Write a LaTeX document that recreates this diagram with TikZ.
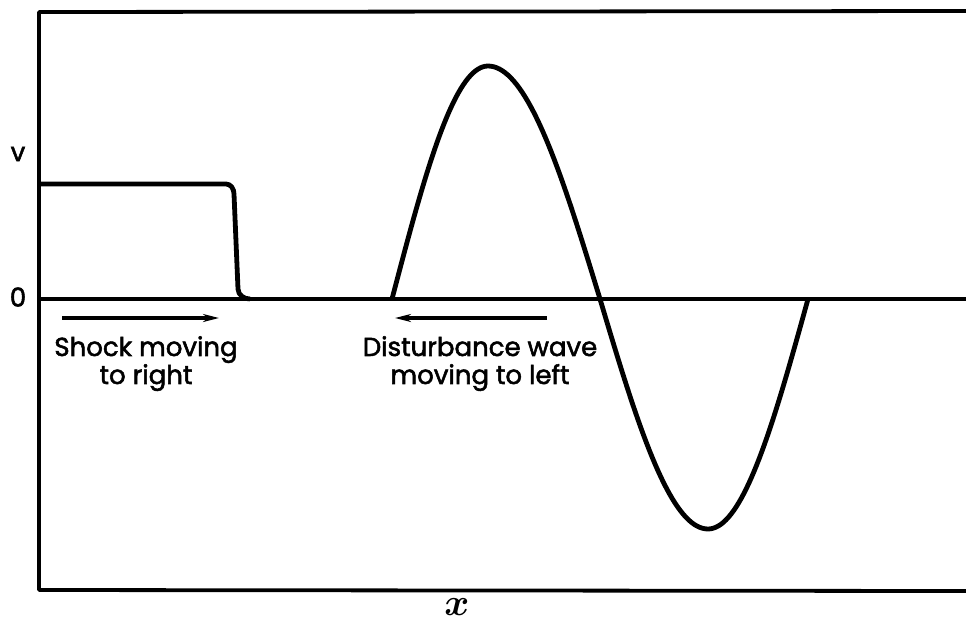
\documentclass[tikz,border=0pt]{standalone}
\usepackage{fontspec}
\setmainfont{Poppins}[BoldFont=Poppins,BoldFeatures={FakeBold=2}]
\usetikzlibrary{arrows.meta}
\begin{document}
\begin{tikzpicture}[x=1pt,y=-1pt,
  frameline/.style={line width=3.8pt},
  curve/.style={line width=4.8pt,line join=round},
  motion/.style={line width=3.4pt,-{Stealth[length=16pt,width=8pt]}},
  lbl/.style={font=\fontsize{26}{28}\selectfont\bfseries,align=center,inner sep=0pt},
  xlbl/.style={font=\boldmath,inner sep=0pt}]
\useasboundingbox (0,0) rectangle (966,625);
% frame and axis
\coordinate (tl) at (39,12);
\coordinate (tr) at (966,11);
\coordinate (bl) at (39,590);
\coordinate (br) at (966,591);
\coordinate (ol) at (39,299);
\coordinate (or) at (966,299);
\draw[frameline,line join=round] (tr) -- (tl) -- (bl) -- (br);
\draw[frameline] (ol) -- (or);
% shock step
\coordinate (s0) at (39,184);
\coordinate (s1) at (226,184);
\coordinate (s2) at (234,194);
\coordinate (s3) at (238,289);
\coordinate (s4) at (250,299);
\draw[curve] (s0) -- (s1) to[out=0,in=90] (s2) -- (s3) to[out=-88,in=180] (s4);
% disturbance wave
\draw[curve]
  plot[domain=0:90,samples=40,variable=\t] ({392+96*\t/90},{299-233*sin(\t)})
  -- plot[domain=0:90,samples=40,variable=\t] ({488+112*\t/90},{299-233*cos(\t)})
  -- plot[domain=0:90,samples=40,variable=\t] ({600+108*\t/90},{299+230*sin(\t)})
  -- plot[domain=0:90,samples=40,variable=\t] ({708+100*\t/90},{299+230*cos(\t)});
% arrows
\coordinate (a1) at (62,318);
\coordinate (a2) at (219,318);
\coordinate (b1) at (547,318);
\coordinate (b2) at (395,318);
\draw[motion] (a1) -- (a2);
\draw[motion] (b1) -- (b2);
% labels
\node[lbl] (v) at (18,154) {v};
\node[lbl] (zero) at (18,297) {0};
\node[lbl,anchor=north] (shock) at (146,336) {Shock moving\\to right};
\node[lbl,anchor=north] (dist) at (480,336) {Disturbance wave\\moving to left};
\node[xlbl] (xl) at (457,607) {\scalebox{3.8}{$x$}};
\end{tikzpicture}
\end{document}
